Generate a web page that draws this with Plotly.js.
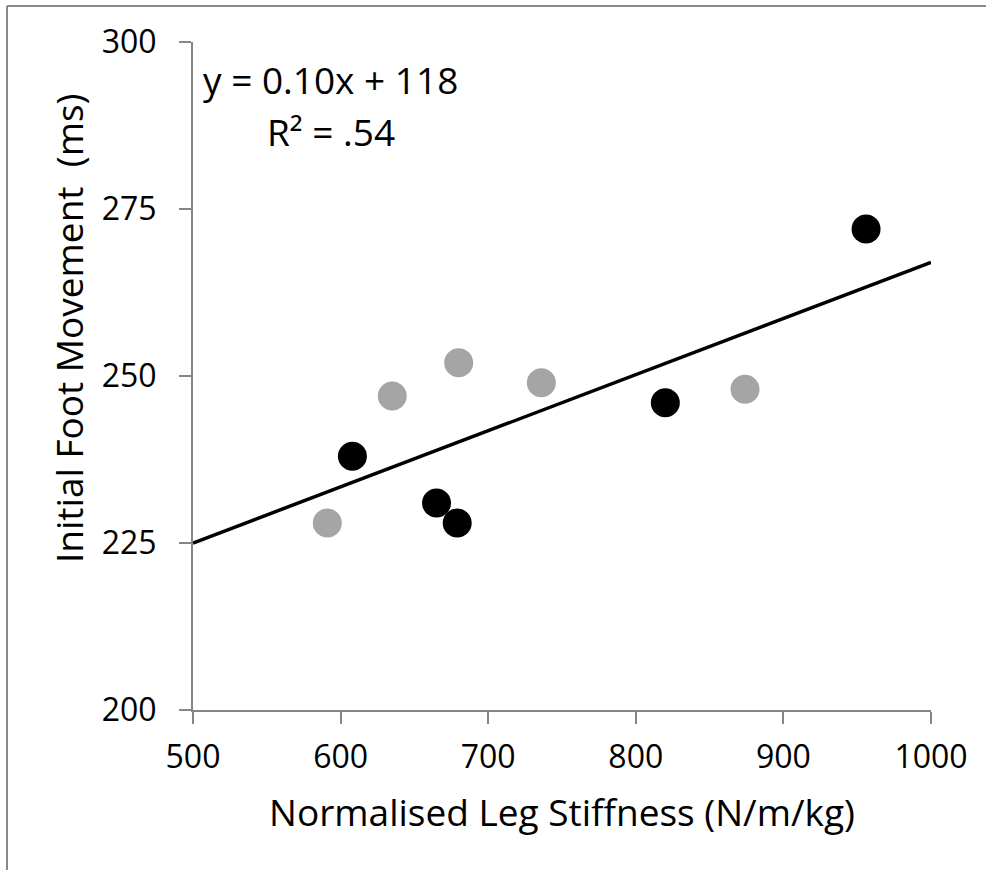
<!DOCTYPE html>
<html>
<head>
<meta charset="utf-8">
<script src="https://cdn.plot.ly/plotly-3.0.1.min.js"></script>
<style>html,body{margin:0;padding:0;background:#fff;}#chart{width:986px;height:870px;}</style>
</head>
<body>
<div id="chart"></div>
<script>
// Group A (black markers)
const blackX = [608, 665, 679, 820, 956];
const blackY = [238, 231, 228, 246, 272];
// Group B (grey markers)
const greyX = [591, 635, 680, 736, 874];
const greyY = [228, 247, 252, 249, 248];
// Linear trend line end points
const trendX = [500, 1000];
const trendY = [225, 267];
// Axis ticks
const xTicks = [500, 600, 700, 800, 900, 1000];
const yTicks = [200, 225, 250, 275, 300];
const eqText = "y = 0.10x + 118";
const r2Text = "R² = .54";
const xTitle = "Normalised Leg Stiffness (N/m/kg)";
const yTitle = "Initial Foot Movement  (ms)";

const FONT = "Open Sans, Noto Sans, sans-serif";
const axisGrey = "#868686";

const traces = [
  {x: trendX, y: trendY, mode: "lines", type: "scatter",
   line: {color: "#000000", width: 3.5}, hoverinfo: "skip", showlegend: false},
  {x: greyX, y: greyY, mode: "markers", type: "scatter",
   marker: {color: "#A5A5A5", size: 29}, showlegend: false},
  {x: blackX, y: blackY, mode: "markers", type: "scatter",
   marker: {color: "#000000", size: 29}, showlegend: false}
];

const L = 193, R = 55, T = 42, B = 160;
const W = 986 - L - R, H = 870 - T - B;
const px2x = p => (p - L) / W;
const py2y = p => (870 - B - p) / H;

const layout = {
  width: 986, height: 870,
  margin: {l: L, r: R, t: T, b: B, pad: 0},
  paper_bgcolor: "#ffffff", plot_bgcolor: "#ffffff",
  font: {family: FONT, color: "#000000"},
  showlegend: false,
  xaxis: {
    range: [500, 1000], tickvals: xTicks, ticktext: xTicks.map(String),
    showgrid: false, zeroline: false,
    showline: true, linecolor: axisGrey, linewidth: 2,
    ticks: "outside", ticklen: 12, tickwidth: 2, tickcolor: axisGrey,
    tickfont: {family: FONT, size: 32, color: "#000"},
    ticklabelstandoff: 6,
    title: {text: xTitle, font: {family: FONT, size: 37, color: "#000"}, standoff: 24}
  },
  yaxis: {
    range: [200, 300], tickvals: yTicks, ticktext: yTicks.map(String),
    showgrid: false, zeroline: false,
    showline: true, linecolor: axisGrey, linewidth: 2,
    ticks: "outside", ticklen: 12, tickwidth: 2, tickcolor: axisGrey,
    tickfont: {family: FONT, size: 32, color: "#000"},
    ticklabelstandoff: 16
  },
  annotations: [
    {xref: "paper", yref: "paper", x: px2x(330), y: py2y(80), text: eqText,
     showarrow: false, xanchor: "center", yanchor: "middle",
     font: {family: FONT, size: 37, color: "#000"}},
    {xref: "paper", yref: "paper", x: px2x(331), y: py2y(131), text: r2Text,
     showarrow: false, xanchor: "center", yanchor: "middle",
     font: {family: FONT, size: 37, color: "#000"}},
    {xref: "paper", yref: "paper", x: px2x(68), y: py2y(329), text: yTitle,
     textangle: -90, showarrow: false, xanchor: "center", yanchor: "middle",
     font: {family: FONT, size: 37, color: "#000"}}
  ],
  shapes: [
    {type: "line", xref: "paper", yref: "paper", layer: "above",
     x0: px2x(7), x1: px2x(7), y0: py2y(6), y1: py2y(880),
     line: {color: "#8a8a8a", width: 2}},
    {type: "line", xref: "paper", yref: "paper", layer: "above",
     x0: px2x(7), x1: px2x(1000), y0: py2y(6), y1: py2y(6),
     line: {color: "#8a8a8a", width: 2}}
  ]
};

Plotly.newPlot("chart", traces, layout, {displayModeBar: false, staticPlot: true});
</script>
</body>
</html>
